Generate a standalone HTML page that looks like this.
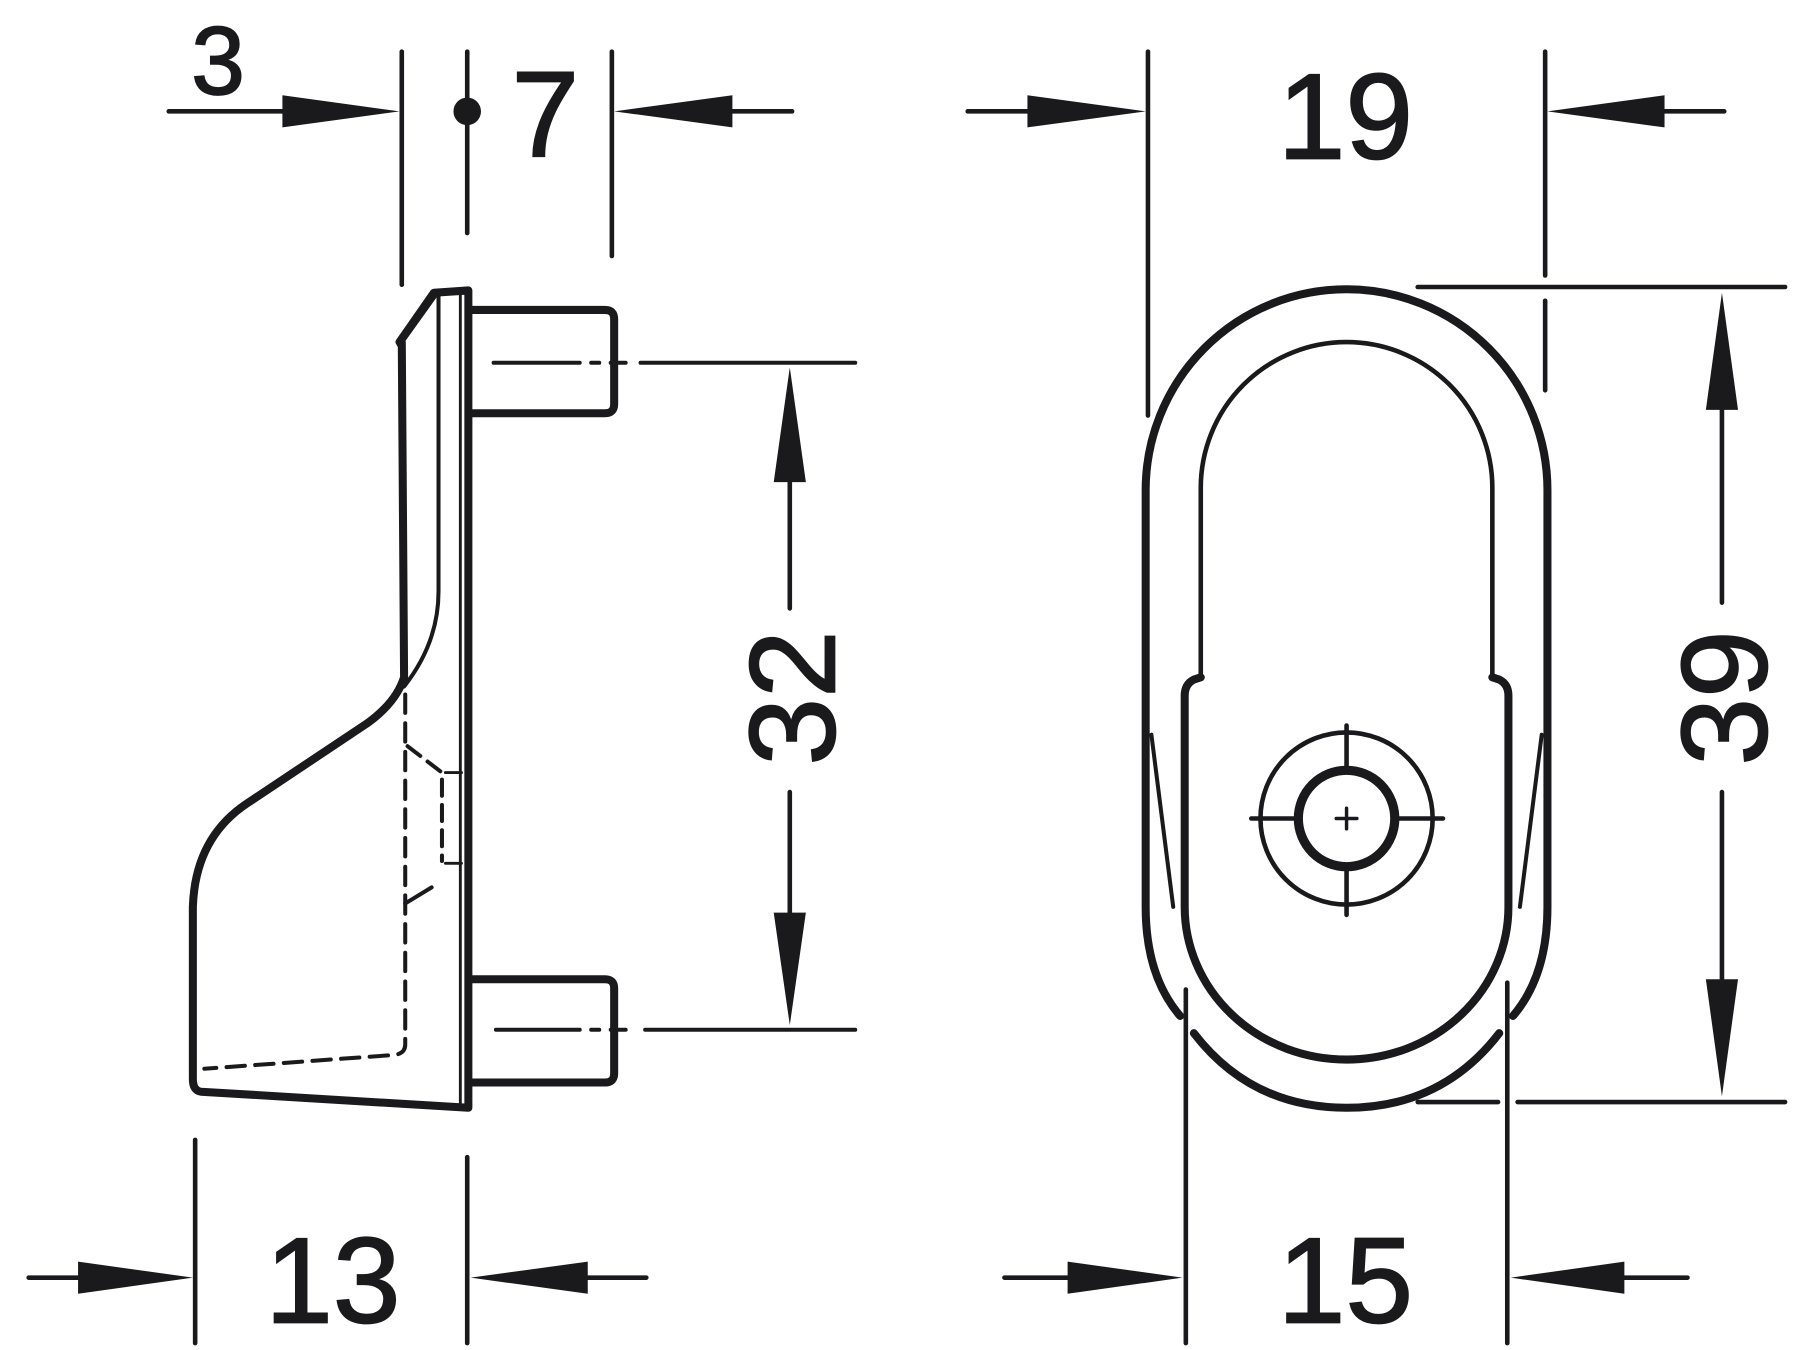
<!DOCTYPE html>
<html><head><meta charset="utf-8"><style>html,body{margin:0;padding:0;background:#fff}svg{display:block}</style></head>
<body>
<svg width="1800" height="1350" viewBox="0 0 1568 1176" xmlns="http://www.w3.org/2000/svg">
<rect width="1568" height="1176" fill="#fff"/>
<g fill="none" stroke="#1a1a1c" stroke-linecap="round" stroke-linejoin="round">
<line x1="147" y1="97" x2="300" y2="97" stroke-width="4"/>
<line x1="350" y1="45" x2="350" y2="248" stroke-width="4"/>
<line x1="407" y1="45" x2="407" y2="203" stroke-width="4"/>
<line x1="533" y1="45" x2="533" y2="223" stroke-width="4"/>
<line x1="580" y1="97" x2="690" y2="97" stroke-width="4"/>
<path d="M348,298 L378,255 L408,253 L408,965 L175,951 Q168,950 168,940 L168,790 Q170,730 215,700 L320,630 Q345,612 352,590 L350,298" stroke-width="7"/>
<path d="M378,258 L348,300" stroke-width="5"/>
<path d="M382,258 L382,515 Q382,560 352,598" stroke-width="3.5"/>
<line x1="401" y1="255" x2="401" y2="962" stroke-width="2.5"/>
<path d="M410,270 L527,270 Q535,270 535,278 L535,352 Q535,360 527,360 L410,360" stroke-width="7"/>
<path d="M410,853 L527,853 Q535,853 535,861 L535,935 Q535,943 527,943 L410,943" stroke-width="7"/>
<path d="M430,316 L505,316 M515,316 L522,316 M532,316 L545,316 M558,316 L745,316" stroke-width="3.5"/>
<path d="M432,897 L505,897 M515,897 L522,897 M532,897 L545,897 M562,897 L745,897" stroke-width="3.5"/>
<path d="M353,605 L353,910 Q353,918 343,919 L178,931" stroke-width="3.5" stroke-dasharray="16,9"/>
<path d="M355,650 L385,673 L385,750" stroke-width="3.5" stroke-dasharray="14,8"/>
<path d="M353,787 L376,773" stroke-width="3.5"/>
<path d="M388,673 L402,673 M388,752 L402,752" stroke-width="2.5"/>
<path d="M688,400 L688,530 M688,690 L688,810" stroke-width="4"/>
<line x1="170" y1="993" x2="170" y2="1170" stroke-width="4"/>
<line x1="407" y1="1008" x2="407" y2="1170" stroke-width="4"/>
<line x1="25" y1="1113" x2="100" y2="1113" stroke-width="4"/>
<line x1="480" y1="1113" x2="563" y2="1113" stroke-width="4"/>
<line x1="1000" y1="45" x2="1000" y2="362" stroke-width="4"/>
<line x1="1346" y1="45" x2="1346" y2="240" stroke-width="4"/>
<line x1="1346" y1="262" x2="1346" y2="340" stroke-width="4"/>
<line x1="843" y1="97" x2="930" y2="97" stroke-width="4"/>
<line x1="1420" y1="97" x2="1502" y2="97" stroke-width="4"/>
<line x1="1235" y1="250" x2="1555" y2="250" stroke-width="4"/>
<line x1="1235" y1="960" x2="1305" y2="960" stroke-width="4"/>
<line x1="1322" y1="960" x2="1555" y2="960" stroke-width="4"/>
<path d="M1500,340 L1500,525 M1500,690 L1500,870" stroke-width="4"/>
<line x1="1033" y1="862" x2="1033" y2="1170" stroke-width="4"/>
<line x1="1313" y1="856" x2="1313" y2="1170" stroke-width="4"/>
<line x1="875" y1="1113" x2="960" y2="1113" stroke-width="4"/>
<line x1="1385" y1="1113" x2="1470" y2="1113" stroke-width="4"/>
<path d="M1028,885 Q998,850 998,790 L998,427 A175,175 0 0 1 1348,427 L1348,790 Q1348,850 1318,885" stroke-width="7"/>
<path d="M1040,900 Q1090,965 1173,965 Q1256,965 1306,900" stroke-width="7"/>
<path d="M1046,590 L1046,425 A127,127 0 0 1 1300,425 L1300,590" stroke-width="4"/>
<path d="M1046,590 L1040,592 Q1032,596 1032,606 L1032,790 A141,133 0 0 0 1314,790 L1314,606 Q1314,596 1306,592 L1300,590" stroke-width="7"/>
<path d="M1003,640 L1022,790 M1343,640 L1324,790" stroke-width="3.5"/>
<circle cx="1173" cy="713" r="75" stroke-width="4"/>
<circle cx="1173" cy="713" r="42" stroke-width="8"/>
<path d="M1090,713 L1131,713 M1215,713 L1257,713 M1173,632 L1173,671 M1173,755 L1173,797" stroke-width="4"/>
<path d="M1164,713 L1182,713 M1173,704 L1173,722" stroke-width="3"/>
</g>
<g fill="#1a1a1c">
<circle cx="407" cy="97" r="12"/>
<polygon points="348,97 246,83 246,111"/>
<polygon points="535,97 638,83 638,111"/>
<polygon points="688,320 674,420 702,420"/>
<polygon points="688,893 674,795 702,795"/>
<polygon points="168,1113 68,1099 68,1127"/>
<polygon points="410,1113 512,1099 512,1127"/>
<polygon points="998,97 895,83 895,111"/>
<polygon points="1348,97 1450,83 1450,111"/>
<polygon points="1500,255 1486,357 1514,357"/>
<polygon points="1500,955 1486,853 1514,853"/>
<polygon points="1030,1113 930,1099 930,1127"/>
<polygon points="1316,1113 1415,1099 1415,1127"/>
</g>
<g fill="#1a1a1c" stroke="#1a1a1c" stroke-width="1.5" font-family="'Liberation Sans', sans-serif">
<text x="190" y="82" font-size="84" text-anchor="middle">3</text>
<text x="475" y="136" font-size="106" text-anchor="middle">7</text>
<text x="1172" y="138" font-size="106" text-anchor="middle">19</text>
<text x="290" y="1152" font-size="106" text-anchor="middle">13</text>
<text x="1172" y="1152" font-size="106" text-anchor="middle">15</text>
<text transform="translate(727,608) rotate(-90)" font-size="106" text-anchor="middle">32</text>
<text transform="translate(1539,608) rotate(-90)" font-size="106" text-anchor="middle">39</text>
</g>
</svg>
</body></html>
